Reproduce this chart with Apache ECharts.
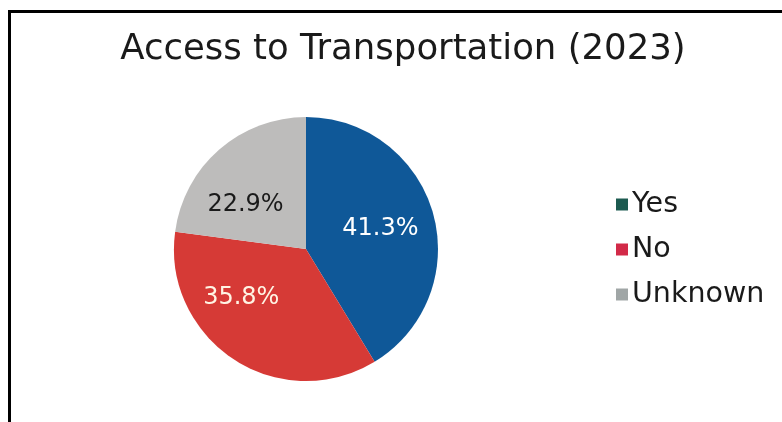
<!DOCTYPE html>
<html>
<head>
<meta charset="utf-8">
<script src="https://cdn.jsdelivr.net/npm/echarts@6/dist/echarts.min.js"></script>
<style>
html,body{margin:0;padding:0;background:#fff;}
#chart{width:782px;height:422px;}
</style>
</head>
<body>
<div id="chart"></div>
<script>
var titleText = 'Access to Transportation (2023)';
var categories = ['Yes', 'No', 'Unknown'];
var values = [41.3, 35.8, 22.9];

var sliceColors = ['#0f5898', '#d63a36', '#bdbcbb'];
var legendColors = ['#1c5a50', '#d22a48', '#a0a6a6'];
var labelColors = ['#ffffff', '#fff4e4', '#1a1a1a'];
var labelOffsets = [[8, -2], [-27, -9], [-15, 8]];

var chart = echarts.init(document.getElementById('chart'), null, {renderer: 'canvas'});
var font = '"DejaVu Sans", sans-serif';

var data = categories.map(function (c, i) {
  return {
    name: c,
    value: values[i],
    itemStyle: {color: sliceColors[i]},
    label: {color: labelColors[i], offset: labelOffsets[i]}
  };
});

chart.setOption({
  animation: false,
  backgroundColor: '#ffffff',
  title: {
    text: titleText,
    left: 398,
    top: 27,
    textAlign: 'center',
    textStyle: {fontFamily: font, fontWeight: 'normal', fontSize: 35.5, color: '#1a1a1a'}
  },
  legend: {
    orient: 'vertical',
    left: 611,
    top: 185,
    itemWidth: 12,
    itemHeight: 12,
    itemGap: 16,
    icon: 'rect',
    textStyle: {fontFamily: font, fontSize: 28.5, lineHeight: 29, color: '#1a1a1a', padding: [0, 0, 0, -1]},
    data: categories.map(function (c, i) {
      return {name: c, itemStyle: {color: legendColors[i]}};
    })
  },
  graphic: [{
    type: 'rect',
    shape: {x: 9.5, y: 11.5, width: 900, height: 600},
    style: {fill: 'none', stroke: '#000', lineWidth: 3},
    silent: true
  }],
  series: [{
    type: 'pie',
    center: [306, 249],
    radius: [0, 132],
    startAngle: 90,
    clockwise: true,
    silent: true,
    label: {
      show: true,
      position: 'inside',
      fontFamily: font,
      fontSize: 24,
      formatter: function (p) { return p.value.toFixed(1) + '%'; }
    },
    labelLine: {show: false},
    itemStyle: {borderWidth: 0},
    data: data
  }]
});
</script>
</body>
</html>
